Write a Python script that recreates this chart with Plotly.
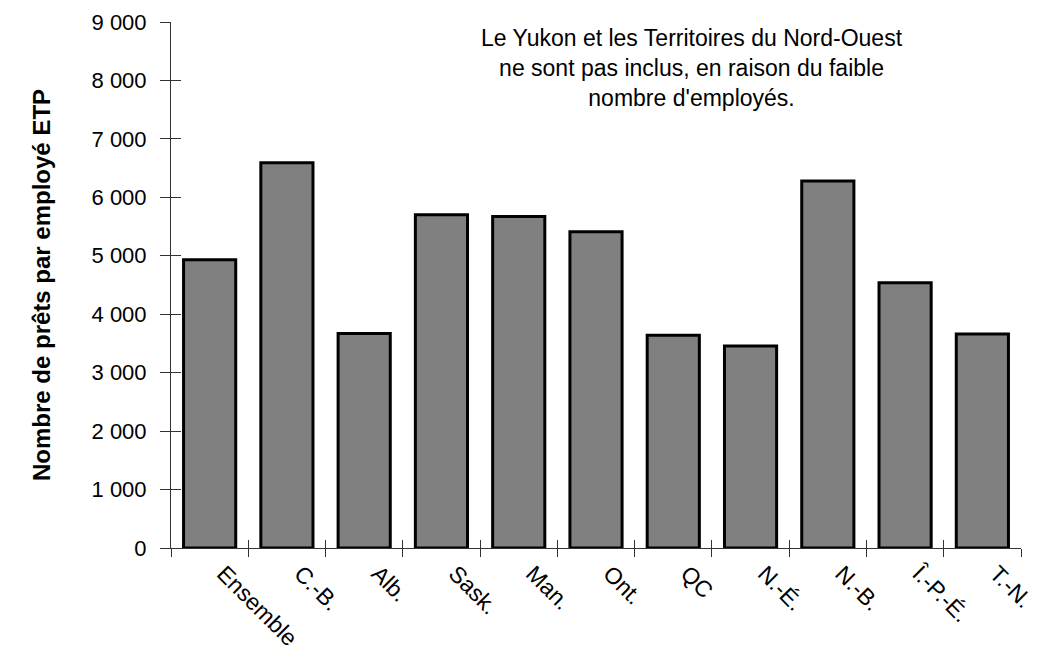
import plotly.graph_objects as go

categories = ["Ensemble", "C.-B.", "Alb.", "Sask.", "Man.", "Ont.", "QC",
              "N.-É.", "N.-B.", "Î.-P.-É.", "T.-N."]
values = [4930, 6590, 3670, 5700, 5670, 5410, 3640, 3455, 6280, 4540, 3660]

y_ticks = list(range(0, 9001, 1000))
note = ("Le Yukon et les Territoires du Nord-Ouest<br>"
        "ne sont pas inclus, en raison du faible<br>"
        "nombre d'employés.")
y_title = "Nombre de prêts par employé ETP"

FONT = "Liberation Sans, Arial, sans-serif"
AX = "#333333"

fig = go.Figure()
fig.add_trace(go.Bar(
    x=categories, y=values,
    marker=dict(color="#808080", line=dict(color="#000000", width=3)),
    width=0.675,
))

n = len(categories)
fig.update_layout(
    width=1041, height=672,
    margin=dict(l=163, r=28, t=14, b=132),
    paper_bgcolor="white", plot_bgcolor="white",
    showlegend=False,
    separators=", ",
    font=dict(family=FONT, size=22, color="black"),
    xaxis=dict(
        type="category", range=[-0.5, n - 0.5], automargin=False,
        showline=True, linecolor=AX, linewidth=1,
        ticks="outside", ticklen=8, tickcolor=AX, tickwidth=1,
        tickson="boundaries", ticklabeloverflow="allow",
        tickangle=45, ticklabelstandoff=2, ticklabelshift=14,
        tickfont=dict(family=FONT, size=23, color="black"),
        showgrid=False, zeroline=False,
    ),
    xaxis2=dict(
        overlaying="x", range=[-0.5, n - 0.5], showline=False, automargin=False,
        tickmode="array", tickvals=[i - 0.5 for i in range(n + 1)],
        ticks="inside", ticklen=8, tickcolor=AX, tickwidth=1,
        showticklabels=False, showgrid=False, zeroline=False,
    ),
    yaxis=dict(
        range=[0, 9000], tickmode="array", tickvals=y_ticks, automargin=False,
        tickformat=",d", ticklabeloverflow="allow",
        showline=True, linecolor=AX, linewidth=1,
        ticks="outside", ticklen=10, tickcolor=AX, tickwidth=1,
        ticklabelstandoff=9,
        tickfont=dict(family=FONT, size=22, color="black"),
        showgrid=False, zeroline=False,
        title=dict(text=y_title, standoff=34,
                   font=dict(family=FONT, size=24, color="black", weight="bold")),
    ),
    yaxis2=dict(
        overlaying="y", range=[0, 9000], tickmode="array", tickvals=y_ticks,
        automargin=False,
        showline=False, ticks="inside", ticklen=10, tickcolor=AX, tickwidth=1,
        showticklabels=False, showgrid=False, zeroline=False,
    ),
)

fig.add_trace(go.Scatter(x=[0], y=[0], xaxis="x2", yaxis="y2",
                         mode="markers", marker=dict(opacity=0),
                         hoverinfo="skip", showlegend=False))

fig.add_annotation(
    text=note, xref="paper", yref="paper", x=0.613, y=0.998,
    xanchor="center", yanchor="top", showarrow=False, align="center",
    font=dict(family=FONT, size=23, color="black"),
)

fig.write_html("out.html")
